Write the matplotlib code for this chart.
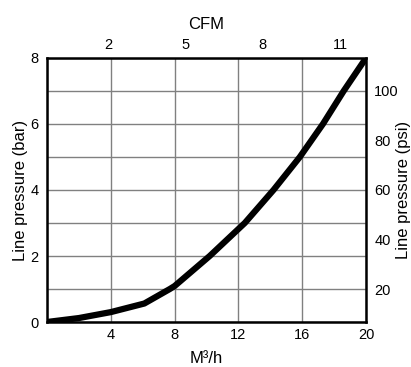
import matplotlib
matplotlib.use('Agg')
import matplotlib.pyplot as plt

plt.rcParams['font.family'] = ['Liberation Sans', 'DejaVu Sans']

# curve
flow_m3h = [0, 2, 4, 6.1, 7.7, 8, 10.2, 12.4, 14.2, 15.85, 17.3, 18.6, 20]
pressure_bar = [0, 0.12, 0.30, 0.56, 1.0, 1.09, 2.0, 3.0, 4.0, 5.0, 6.0, 7.0, 8.0]

bottom_ticks = [4, 8, 12, 16, 20]
left_ticks = [0, 2, 4, 6, 8]
cfm_ticks = [2, 5, 8, 11]
psi_ticks = [20, 40, 60, 80, 100]

fig = plt.figure(figsize=(4.11, 3.67), dpi=100)
ax = fig.add_axes([0.1144, 0.1226, 0.7761, 0.7194])

ax.plot(flow_m3h, pressure_bar, color='black', lw=4.5,
        solid_capstyle='round', solid_joinstyle='round', zorder=5)
ax.set_xlim(0, 20)
ax.set_ylim(0, 8)
ax.set_xticks(bottom_ticks)
ax.set_yticks(left_ticks)
ax.set_yticks(range(0, 9), minor=True)
ax.set_xticks(range(0, 21, 4), minor=True)
ax.grid(True, which='both', color='#808080', lw=1)
ax.tick_params(length=0, which='both', labelsize=10.5)
ax.tick_params(axis='x', pad=4)
ax.tick_params(axis='y', pad=6)
for s in ax.spines.values():
    s.set_linewidth(1.8)
ax.set_xlabel('M³/h', fontsize=12, labelpad=7)
ax.set_ylabel('Line pressure (bar)', fontsize=12, labelpad=1.5)

# top CFM scale
top = ax.twiny()
top.set_xlim(-0.37, 12.0)
top.set_xticks(cfm_ticks)
top.tick_params(length=0, labelsize=10.5, pad=4)
top.set_xlabel('CFM', fontsize=12, labelpad=6.5)
for s in top.spines.values():
    s.set_visible(False)

# right psi scale
right = ax.twinx()
right.set_ylim(20 - 40 / 3, 100 + 40 / 3)
right.set_yticks(psi_ticks)
right.tick_params(length=0, labelsize=10.5, pad=6)
for s in right.spines.values():
    s.set_visible(False)
fig.text(403 / 411, 0.482, 'Line pressure (psi)', fontsize=12,
         rotation=90, ha='center', va='center')

fig.savefig('out.png', dpi=100)
